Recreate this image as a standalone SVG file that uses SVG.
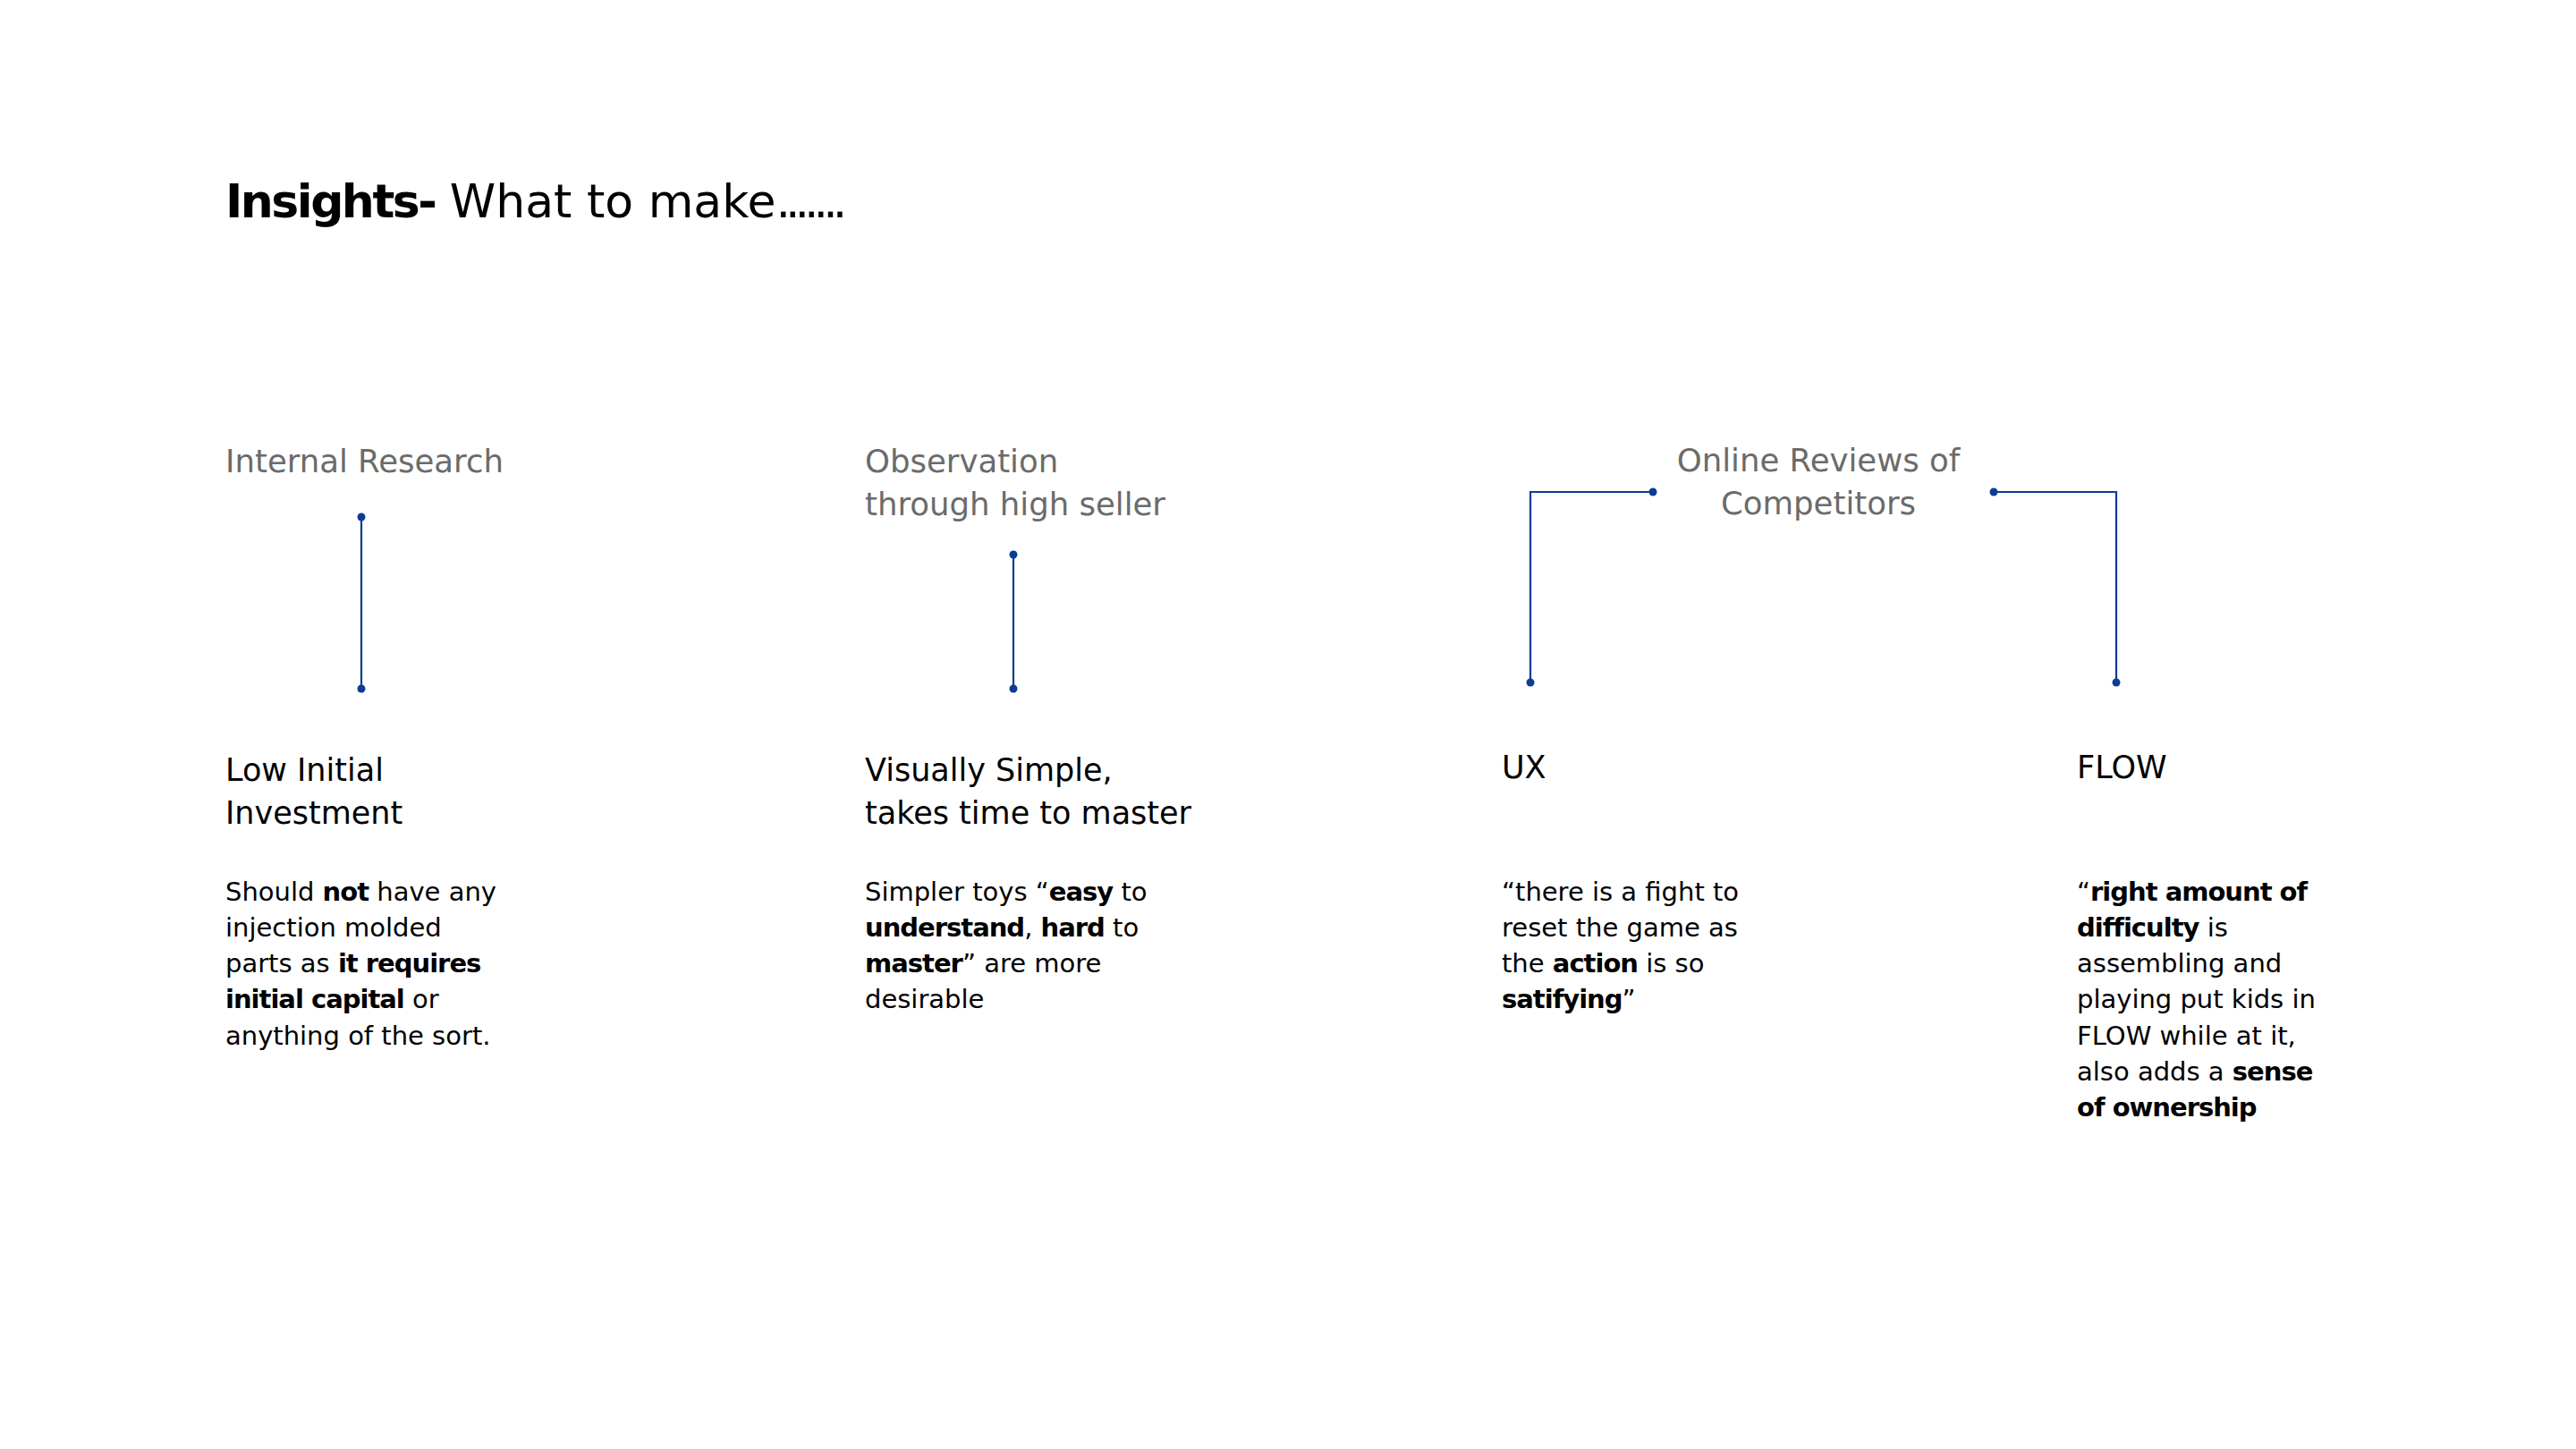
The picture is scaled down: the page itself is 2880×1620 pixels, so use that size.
<svg xmlns="http://www.w3.org/2000/svg" width="2880" height="1620" viewBox="0 0 2880 1620">
<style>
text{font-family:"DejaVu Sans","Liberation Sans",sans-serif;}
.title{font-size:52px;fill:#000;}
.sub{font-size:35.5px;fill:#6b6b6b;}
.head{font-size:35px;fill:#000;}
.body{font-size:29px;fill:#000;}
.b{font-weight:bold;}
.body .b{letter-spacing:-1px;}
.ln{stroke:#0b3d91;stroke-width:2.2;fill:none;}
.dot{fill:#0b3d91;}
</style>
<rect width="2880" height="1620" fill="#fff"/>
<g id="title">
<text class="title" x="252" y="243"><tspan class="b" letter-spacing="-2.5">Insights-</tspan> What to make<tspan letter-spacing="-6">.......</tspan></text>
</g>
<g id="src-internal">
<text class="sub" x="252" y="528">Internal Research</text>
</g>
<g id="src-observation">
<text class="sub" x="967" y="528">Observation</text>
<text class="sub" x="967" y="576">through high seller</text>
</g>
<g id="src-online">
<text class="sub" x="2033" y="527" text-anchor="middle">Online Reviews of</text>
<text class="sub" x="2033" y="575" text-anchor="middle">Competitors</text>
</g>
<g id="connectors">
<line class="ln" x1="404" y1="578" x2="404" y2="770"/>
<circle class="dot" cx="404" cy="578" r="4.5"/>
<circle class="dot" cx="404" cy="770" r="4.5"/>
<line class="ln" x1="1133" y1="620" x2="1133" y2="770"/>
<circle class="dot" cx="1133" cy="620" r="4.5"/>
<circle class="dot" cx="1133" cy="770" r="4.5"/>
<polyline class="ln" points="1848,550 1711,550 1711,763"/>
<circle class="dot" cx="1848" cy="550" r="4.5"/>
<circle class="dot" cx="1711" cy="763" r="4.5"/>
<polyline class="ln" points="2229,550 2366,550 2366,763"/>
<circle class="dot" cx="2229" cy="550" r="4.5"/>
<circle class="dot" cx="2366" cy="763" r="4.5"/>
</g>
<g id="insight-low-investment">
<text class="head" x="252" y="873">Low Initial</text>
<text class="head" x="252" y="921">Investment</text>
<text class="body" x="252" y="1007">Should <tspan class="b">not</tspan> have any</text>
<text class="body" x="252" y="1047">injection molded</text>
<text class="body" x="252" y="1087">parts as <tspan class="b">it requires</tspan></text>
<text class="body" x="252" y="1127"><tspan class="b">initial capital</tspan> or</text>
<text class="body" x="252" y="1168">anything of the sort.</text>
</g>
<g id="insight-visually-simple">
<text class="head" x="967" y="873">Visually Simple,</text>
<text class="head" x="967" y="921">takes time to master</text>
<text class="body" x="967" y="1007">Simpler toys “<tspan class="b">easy</tspan> to</text>
<text class="body" x="967" y="1047"><tspan class="b">understand</tspan>, <tspan class="b">hard</tspan> to</text>
<text class="body" x="967" y="1087"><tspan class="b">master</tspan>” are more</text>
<text class="body" x="967" y="1127">desirable</text>
</g>
<g id="insight-ux">
<text class="head" x="1679" y="870">UX</text>
<text class="body" x="1679" y="1007">“there is a fight to</text>
<text class="body" x="1679" y="1047">reset the game as</text>
<text class="body" x="1679" y="1087">the <tspan class="b">action</tspan> is so</text>
<text class="body" x="1679" y="1127"><tspan class="b">satifying</tspan>”</text>
</g>
<g id="insight-flow">
<text class="head" x="2322" y="870">FLOW</text>
<text class="body" x="2322" y="1007">“<tspan class="b">right amount of</tspan></text>
<text class="body" x="2322" y="1047"><tspan class="b">difficulty</tspan> is</text>
<text class="body" x="2322" y="1087">assembling and</text>
<text class="body" x="2322" y="1127">playing put kids in</text>
<text class="body" x="2322" y="1168">FLOW while at it,</text>
<text class="body" x="2322" y="1208">also adds a <tspan class="b">sense</tspan></text>
<text class="body" x="2322" y="1248"><tspan class="b">of ownership</tspan></text>
</g>
</svg>
